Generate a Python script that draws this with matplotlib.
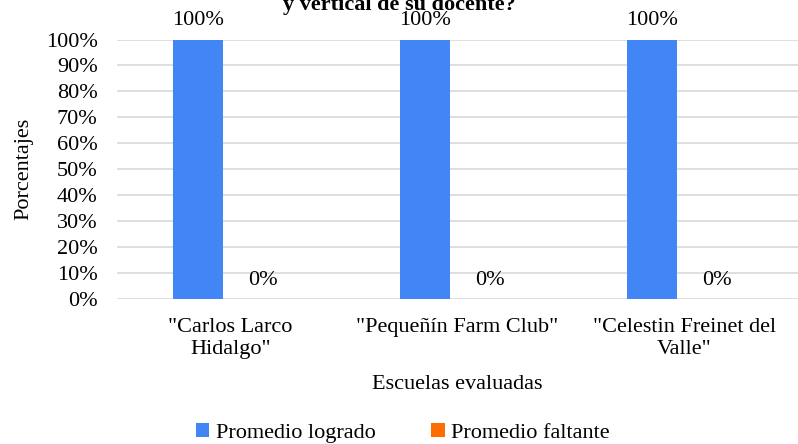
import numpy as np
import matplotlib.pyplot as plt

escuelas = ['"Carlos Larco\nHidalgo"', '"Pequeñín Farm Club"', '"Celestin Freinet del\nValle"']
logrado = [100, 100, 100]
faltante = [0, 0, 0]
yticks = [0, 10, 20, 30, 40, 50, 60, 70, 80, 90, 100]

plt.rcParams['font.family'] = ['Liberation Serif', 'DejaVu Serif']
plt.rcParams['font.size'] = 16

fig = plt.figure(figsize=(7.98, 4.44), dpi=100)
ax = fig.add_axes([117/798, 1 - 299/444, 681/798, (299 - 39.5)/444])

x = np.arange(len(escuelas))
w = 0.22
off = 0.143
b1 = ax.bar(x - off, logrado, w, color='#4285F4', label='Promedio logrado', zorder=3)
b2 = ax.bar(x + off, faltante, w, color='#FF6D01', label='Promedio faltante', zorder=3)

for bars, vals in ((b1, logrado), (b2, faltante)):
    for r, v in zip(bars, vals):
        ax.annotate(f'{v}%', (r.get_x() + r.get_width()/2, v), xytext=(0, 6.5),
                    textcoords='offset points', ha='center', va='bottom')

ax.set_xlim(-0.5, 2.5)
ax.set_ylim(0, 100)
ax.set_yticks(yticks)
ax.set_yticklabels([f'{t}%' for t in yticks])
ax.set_xticks(x)
ax.set_xticklabels(escuelas, linespacing=1.2)
ax.tick_params(length=0, pad=14)
ax.tick_params(axis='x', pad=14)
ax.grid(axis='y', color='#d9d9d9', linewidth=1.2, zorder=0)
for s in ax.spines.values():
    s.set_visible(False)

ax.set_ylabel('Porcentajes', labelpad=9)
ax.set_xlabel('Escuelas evaluadas', labelpad=11)

fig.text(0.5, 1 - 10/444, 'y vertical de su docente?', ha='center', va='baseline',
         fontweight='bold')

fig.legend(loc='center', bbox_to_anchor=(0.505, 1 - 433/444), ncol=2, frameon=False,
           handlelength=0.6, handleheight=0.6, handletextpad=0.3, columnspacing=2.5)

fig.savefig('out.png', dpi=100)
